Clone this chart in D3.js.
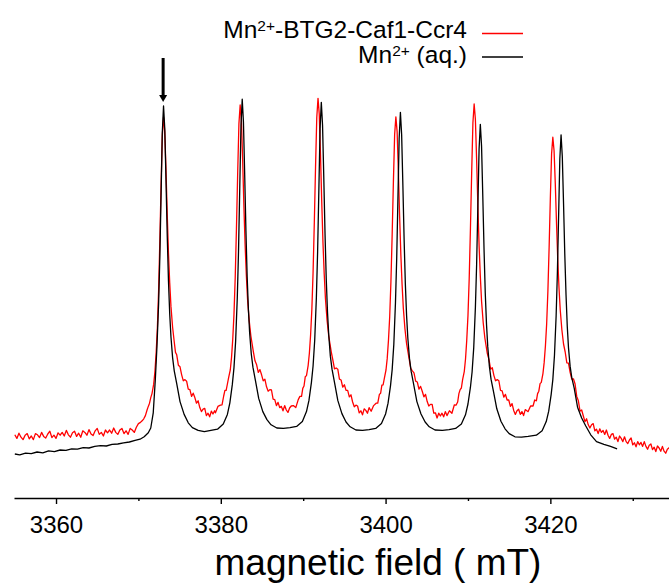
<!DOCTYPE html>
<html>
<head>
<meta charset="utf-8">
<script src="https://cdn.jsdelivr.net/npm/d3@7"></script>
<style>
  html, body { margin: 0; padding: 0; background: #fff; }
  svg { display: block; font-family: Arial, "Liberation Sans", sans-serif; }
</style>
</head>
<body>
<svg id="chart" width="669" height="588"></svg>
<script>
// ---- data (field in mT, intensity in arbitrary units) ----
const majorTicks = [3360, 3380, 3400, 3420];
const minorTicks = [3370, 3390, 3410, 3430];
const xTitle = "magnetic field ( mT)";
const seriesNames = ["-BTG2-Caf1-Ccr4", " (aq.)"];
const seriesColors = ["#ff0000", "#000000"];
const arrowField = 3373.0;
const arrowIntensity = [110, 99];

const blackSpectrum = [
[3355.0,11.0],[3355.6,10.8],[3356.3,11.2],[3357.0,11.1],[3357.7,11.5],[3358.4,11.3],[3359.1,11.8],[3359.8,11.6],[3360.5,12.0],[3361.2,11.9],[3361.9,12.3],[3362.6,12.2],[3363.3,12.6],[3364.0,12.5],[3364.7,12.9],[3365.4,13.1],[3366.1,13.0],[3366.8,13.4],[3367.5,13.5],[3368.2,13.8],[3368.9,14.0],[3369.6,14.4],[3370.2,14.7],[3370.7,15.3],[3371.2,16.3],[3371.5,17.5],[3371.8,21.3],[3372.05,29.5],
[3372.25,37.8],[3372.45,48.5],[3372.6,60.1],[3372.75,75.7],[3372.9,91.4],[3373.05,98.0],[3373.2,92.3],[3373.35,79.3],[3373.5,65.5],[3373.65,54.2],[3373.8,46.0],[3373.95,40.3],[3374.15,35.1],[3374.35,31.8],[3374.65,28.6],[3375.05,24.1],[3375.55,20.9],[3376.05,18.8],[3376.55,17.6],[3377.25,16.9],[3378.0,16.6],[3378.8,16.9],
[3379.6,17.2],[3380.3,18.5],[3380.8,20.9],[3381.1,23.8],[3381.4,28.4],[3381.6,32.6],[3381.8,39.2],[3382.0,50.0],[3382.15,61.6],[3382.3,77.3],[3382.45,93.1],[3382.6,99.7],[3382.75,93.9],[3382.9,80.8],[3383.05,66.8],[3383.2,55.3],[3383.35,47.1],[3383.5,41.3],[3383.7,36.0],[3383.9,32.7],[3384.2,29.4],[3384.6,24.9],[3385.1,21.6],[3385.6,19.6],[3386.1,18.3],[3386.8,17.5],[3387.6,17.4],[3388.4,17.6],
[3389.2,17.9],[3389.9,19.1],[3390.4,21.6],[3390.7,24.4],[3391.0,28.9],[3391.2,33.0],[3391.4,39.5],[3391.6,50.1],[3391.75,61.5],[3391.9,76.9],[3392.05,92.4],[3392.2,98.9],[3392.35,93.2],[3392.5,80.1],[3392.65,66.1],[3392.8,54.7],[3392.95,46.5],[3393.1,40.8],[3393.3,35.4],[3393.5,32.2],[3393.8,28.9],[3394.2,24.4],[3394.7,21.1],[3395.2,19.0],[3395.7,17.8],[3396.4,17.0],[3397.2,16.9],[3398.0,17.1],
[3398.8,17.4],[3399.5,18.6],[3400.0,21.0],[3400.3,23.7],[3400.6,28.1],[3400.8,32.1],[3401.0,38.4],[3401.2,48.8],[3401.35,59.9],[3401.5,75.0],[3401.65,90.0],[3401.8,96.4],[3401.95,90.8],[3402.1,78.1],[3402.25,64.6],[3402.4,53.5],[3402.55,45.6],[3402.7,40.0],[3402.9,34.9],[3403.1,31.7],[3403.4,28.5],[3403.8,24.1],[3404.3,21.0],[3404.8,19.0],[3405.3,17.8],[3406.0,17.0],[3406.9,16.9],[3407.7,17.1],
[3408.5,17.4],[3409.2,18.5],[3409.7,20.8],[3410.0,23.5],[3410.3,27.7],[3410.5,31.5],[3410.7,37.6],[3410.9,47.6],[3411.05,58.3],[3411.2,72.8],[3411.35,87.3],[3411.5,93.4],[3411.65,87.9],[3411.8,75.4],[3411.95,62.2],[3412.1,51.2],[3412.25,43.4],[3412.4,37.9],[3412.6,32.9],[3412.8,29.7],[3413.1,26.6],[3413.5,22.3],[3414.0,19.2],[3414.5,17.3],[3415.0,16.1],[3415.7,15.3],[3416.5,15.2],[3417.3,15.4],
[3418.3,15.7],[3419.0,16.8],[3419.5,19.1],[3419.8,21.7],[3420.1,25.9],[3420.3,29.6],[3420.5,35.7],[3420.7,45.5],[3420.85,56.1],[3421.0,70.4],[3421.15,84.8],[3421.3,90.8],[3421.45,85.3],[3421.6,73.6],[3421.75,61.0],[3421.9,50.9],[3422.05,43.0],[3422.2,37.6],[3422.4,32.9],[3422.6,30.1],[3422.9,27.4],[3423.3,22.7],[3423.8,20.0],[3424.3,18.0],[3424.9,15.8],[3425.6,14.1],[3426.5,13.4],[3427.3,12.9],[3428.1,12.3]
];

const redSpectrum = [
[3355.0,15.8],[3355.25,14.9],[3355.5,16.2],[3355.75,15.2],[3356.0,14.6],[3356.25,15.7],[3356.5,16.1],[3356.75,14.8],[3357.0,15.5],[3357.25,14.6],[3357.5,16.1],[3357.75,15.8],
[3358.0,15.1],[3358.25,16.4],[3358.5,15.4],[3358.75,15.0],[3359.0,16.0],[3359.25,16.7],[3359.5,15.1],[3359.75,15.7],[3360.0,14.9],[3360.25,16.3],[3360.5,15.7],[3360.75,16.4],
[3361.0,15.5],[3361.25,16.9],[3361.5,15.8],[3361.75,15.2],[3362.0,16.3],[3362.25,16.7],[3362.5,15.4],[3362.75,16.2],[3363.0,15.2],[3363.25,16.8],[3363.5,16.4],[3363.75,15.7],
[3364.0,17.1],[3364.25,16.0],[3364.5,15.6],[3364.75,16.8],[3365.0,17.4],[3365.25,15.9],[3365.5,16.4],[3365.75,15.5],[3366.0,17.0],[3366.25,16.3],[3366.5,17.0],[3366.75,16.2],
[3367.0,17.5],[3367.25,16.4],[3367.5,15.9],[3367.75,17.0],[3368.0,17.4],[3368.25,16.1],[3368.5,16.8],[3368.75,15.9],[3369.0,17.4],[3369.25,17.0],[3369.5,16.4],[3369.75,17.7],
[3370.0,18.6],[3370.25,18.9],[3370.45,19.3],[3370.65,19.8],[3370.85,20.6],[3371.05,22.0],[3371.2,22.9],[3371.35,23.7],[3371.5,25.1],[3371.65,26.1],[3371.85,28.4],[3372.0,31.5],[3372.15,36.2],[3372.3,42.4],[3372.45,51.7],[3372.6,64.2],[3372.75,78.1],[3372.9,90.6],[3373.05,95.25],[3373.2,91.5],[3373.35,81.9],[3373.5,70.8],[3373.65,61.2],[3373.8,53.8],[3373.95,47.9],[3374.15,42.7],[3374.35,39.0],[3374.5,36.4],
[3374.65,35.8],[3374.85,33.2],[3375.05,32.8],[3375.25,30.8],[3375.45,29.3],[3375.65,29.6],[3375.85,29.2],[3376.05,27.2],[3376.25,27.1],[3376.45,25.4],[3376.65,26.2],[3376.85,25.1],[3377.05,23.7],[3377.25,24.3],[3377.45,22.6],[3377.65,21.6],[3377.85,22.2],[3378.05,22.4],[3378.25,20.6],[3378.45,21.2],[3378.65,20.3],[3378.85,21.7],[3379.05,21.0],[3379.25,21.8],
[3379.35,21.3],[3379.65,22.9],[3379.95,23.2],[3380.15,23.3],[3380.35,25.5],[3380.5,26.9],[3380.65,26.9],[3380.8,28.5],[3380.95,30.1],[3381.15,32.0],[3381.3,35.1],[3381.45,39.7],[3381.6,45.9],[3381.75,55.1],[3381.9,67.4],[3382.05,81.3],[3382.2,93.6],[3382.35,98.25],[3382.5,94.4],[3382.65,84.6],[3382.8,73.2],[3382.95,63.3],[3383.1,55.7],[3383.25,49.6],[3383.45,44.3],[3383.65,40.5],[3383.95,36.6],
[3384.15,34.3],[3384.35,33.3],[3384.55,31.4],[3384.75,32.1],[3384.95,30.8],[3385.15,29.3],[3385.35,29.7],[3385.55,27.8],[3385.75,26.7],[3385.95,27.1],[3386.15,27.0],[3386.35,24.7],[3386.55,24.6],[3386.75,23.1],[3386.95,23.9],[3387.15,22.6],[3387.35,22.9],[3387.55,21.8],[3387.75,23.1],[3387.95,22.0],[3388.15,21.4],[3388.35,22.5],[3388.55,23.0],
[3388.8,23.1],[3389.1,22.6],[3389.4,24.6],[3389.6,25.4],[3389.8,25.4],[3389.95,27.4],[3390.1,28.0],[3390.25,30.3],[3390.4,30.6],[3390.6,33.1],[3390.75,36.2],[3390.9,40.8],[3391.05,47.1],[3391.2,56.4],[3391.35,68.8],[3391.5,82.8],[3391.65,95.2],[3391.8,99.9],[3391.95,96.0],[3392.1,85.8],[3392.25,74.1],[3392.4,63.9],[3392.55,56.1],[3392.7,49.9],[3392.9,44.4],[3393.1,40.5],[3393.4,36.6],
[3393.6,34.5],[3393.8,32.3],[3394.0,32.5],[3394.2,32.2],[3394.4,29.7],[3394.6,29.5],[3394.8,27.7],[3395.0,28.3],[3395.2,26.9],[3395.4,26.9],[3395.6,25.3],[3395.8,25.8],[3396.0,24.0],[3396.2,22.8],[3396.4,23.2],[3396.6,23.0],[3396.8,21.3],[3397.0,21.8],[3397.2,20.8],[3397.4,22.3],[3397.6,21.9],[3397.8,21.2],[3398.0,22.6],
[3398.25,21.7],[3398.55,23.1],[3398.85,23.7],[3399.05,23.7],[3399.25,25.9],[3399.4,26.2],[3399.55,28.2],[3399.7,28.3],[3399.85,29.9],[3400.05,32.0],[3400.2,34.9],[3400.35,39.4],[3400.5,45.3],[3400.65,54.1],[3400.8,65.9],[3400.95,79.1],[3401.1,90.9],[3401.25,95.3],[3401.4,91.6],[3401.55,81.9],[3401.7,70.7],[3401.85,61.0],[3402.0,53.5],[3402.15,47.6],[3402.35,42.3],[3402.55,38.6],[3402.85,34.9],
[3403.05,32.4],[3403.25,31.8],[3403.45,31.3],[3403.65,29.2],[3403.85,29.0],[3404.05,27.2],[3404.25,27.9],[3404.45,26.7],[3404.65,25.3],[3404.85,25.9],[3405.05,24.1],[3405.25,23.0],[3405.45,23.4],[3405.65,23.4],[3405.85,21.2],[3406.05,21.3],[3406.25,20.0],[3406.45,21.2],[3406.65,20.5],[3406.85,21.2],[3407.05,20.3],[3407.25,21.6],[3407.45,20.6],
[3407.75,21.8],[3408.05,21.2],[3408.35,23.3],[3408.55,23.2],[3408.75,24.0],[3408.9,26.1],[3409.05,27.1],[3409.2,27.5],[3409.35,29.6],[3409.55,31.6],[3409.7,34.7],[3409.85,39.4],[3410.0,45.6],[3410.15,54.9],[3410.3,67.4],[3410.45,81.4],[3410.6,93.8],[3410.75,98.5],[3410.9,94.7],[3411.05,84.6],[3411.2,73.1],[3411.35,63.1],[3411.5,55.4],[3411.65,49.2],[3411.85,43.8],[3412.05,40.0],[3412.35,36.1],
[3412.55,34.6],[3412.75,32.2],[3412.95,32.6],[3413.15,30.6],[3413.35,29.3],[3413.55,29.6],[3413.75,29.3],[3413.95,26.9],[3414.15,26.8],[3414.35,25.2],[3414.55,25.9],[3414.75,24.5],[3414.95,24.5],[3415.15,22.9],[3415.35,23.6],[3415.55,21.9],[3415.75,20.9],[3415.95,21.8],[3416.15,22.2],[3416.35,20.9],[3416.55,21.6],[3416.75,20.6],[3416.95,22.1],[3417.15,21.8],
[3417.3,21.6],[3417.6,23.0],[3417.9,23.0],[3418.1,24.5],[3418.3,24.3],[3418.45,26.1],[3418.6,26.7],[3418.75,28.6],[3418.9,28.9],[3419.1,31.1],[3419.25,33.9],[3419.4,38.0],[3419.55,43.5],[3419.7,51.7],[3419.85,62.7],[3420.0,75.1],[3420.15,86.1],[3420.3,90.2],[3420.45,86.8],[3420.6,78.5],[3420.75,68.5],[3420.9,59.5],[3421.05,52.5],[3421.2,47.0],[3421.4,42.0],[3421.6,38.5],
[3421.8,36.5],[3422.0,33.8],[3422.2,33.7],[3422.4,31.4],[3422.6,29.7],[3422.8,29.8],[3423.0,28.5],[3423.2,25.4],[3423.4,24.3],[3423.6,21.7],[3423.8,22.0],[3424.0,20.5],[3424.2,19.1],[3424.4,19.8],[3424.6,18.3],[3424.8,17.5],[3425.0,18.3],[3425.2,18.6],[3425.4,16.8],[3425.6,17.2],[3425.8,16.1],[3426.0,17.3],[3426.2,16.4],[3426.4,16.9],[3426.6,15.9],[3426.8,17.0],[3427.0,15.7],[3427.2,14.9],[3427.4,15.9],[3427.6,16.1],[3427.8,14.7],[3428.0,15.2],
[3428.2,14.1],[3428.4,15.5],[3428.6,14.9],[3428.8,14.1],[3429.0,15.3],[3429.2,14.1],[3429.4,13.6],[3429.6,14.5],[3429.8,15.0],[3430.0,13.3],[3430.2,13.8],[3430.4,12.8],[3430.6,14.1],[3430.8,13.3],[3431.0,13.9],[3431.2,12.9],[3431.4,14.1],[3431.6,12.9],[3431.8,12.2],[3432.0,13.2],[3432.2,13.5],[3432.4,12.1],[3432.6,12.7],[3432.8,11.6],[3433.0,13.0],[3433.2,12.5],[3433.4,11.7],[3433.6,12.9],[3433.8,11.7],[3434.0,11.2],[3434.2,12.2],[3434.5,12.7]
];

// ---- drawing ----
const svg = d3.select("#chart");
const x = d3.scaleLinear().domain([3354.9, 3434.4]).range([14, 669]);
const y = d3.scaleLinear().domain([0, 100]).range([498, 98]);

const line = d3.line().x(d => x(d[0])).y(d => y(d[1]));

svg.append("path").datum(redSpectrum)
  .attr("d", line).attr("fill", "none")
  .attr("stroke", seriesColors[0]).attr("stroke-width", 1.3).attr("stroke-linejoin", "round");
svg.append("path").datum(blackSpectrum)
  .attr("d", line).attr("fill", "none")
  .attr("stroke", seriesColors[1]).attr("stroke-width", 1.3).attr("stroke-linejoin", "round");

// axis
const axisY = y(0);
const gMinor = svg.append("g").attr("transform", `translate(0,${axisY})`)
  .call(d3.axisBottom(x).tickValues(minorTicks).tickSize(3).tickSizeOuter(0).tickFormat(""));
gMinor.select(".domain").remove();
gMinor.selectAll("line").attr("stroke", "#000").attr("stroke-width", 1.4);

const gMajor = svg.append("g").attr("transform", `translate(0,${axisY})`)
  .call(d3.axisBottom(x).tickValues(majorTicks).tickSize(6).tickSizeOuter(0).tickPadding(12).tickFormat(d3.format("d")));
gMajor.select(".domain").attr("stroke", "#000").attr("stroke-width", 1.6);
gMajor.selectAll("line").attr("stroke", "#000").attr("stroke-width", 1.4);
gMajor.selectAll("text").attr("font-size", 24).attr("font-family", "Arial, 'Liberation Sans', sans-serif").attr("fill", "#000");

// title
svg.append("text").attr("x", 378).attr("y", 575)
  .attr("text-anchor", "middle").attr("font-size", 37).attr("fill", "#000")
  .text(xTitle);

// legend
const legendRows = [{y: 37.5, lineY: 33.5}, {y: 62.5, lineY: 57}];
seriesNames.forEach((name, i) => {
  const t = svg.append("text").attr("x", 467).attr("y", legendRows[i].y)
    .attr("text-anchor", "end").attr("font-size", 24.5).attr("fill", "#000");
  t.append("tspan").text("Mn");
  t.append("tspan").attr("font-size", 15.5).attr("dy", -7).text("2+");
  t.append("tspan").attr("dy", 7).text(name);
  svg.append("line").attr("x1", 482).attr("x2", 523)
    .attr("y1", legendRows[i].lineY).attr("y2", legendRows[i].lineY)
    .attr("stroke", seriesColors[i]).attr("stroke-width", 1.3);
});

// arrow
const ax = x(arrowField);
const yTop = y(arrowIntensity[0]);
const yTip = y(arrowIntensity[1]);
svg.append("line").attr("x1", ax).attr("x2", ax).attr("y1", yTop).attr("y2", yTip - 6)
  .attr("stroke", "#000").attr("stroke-width", 3);
svg.append("path")
  .attr("d", `M${ax - 4},${yTip - 7} L${ax + 4},${yTip - 7} L${ax},${yTip} Z`)
  .attr("fill", "#000");
</script>
</body>
</html>
